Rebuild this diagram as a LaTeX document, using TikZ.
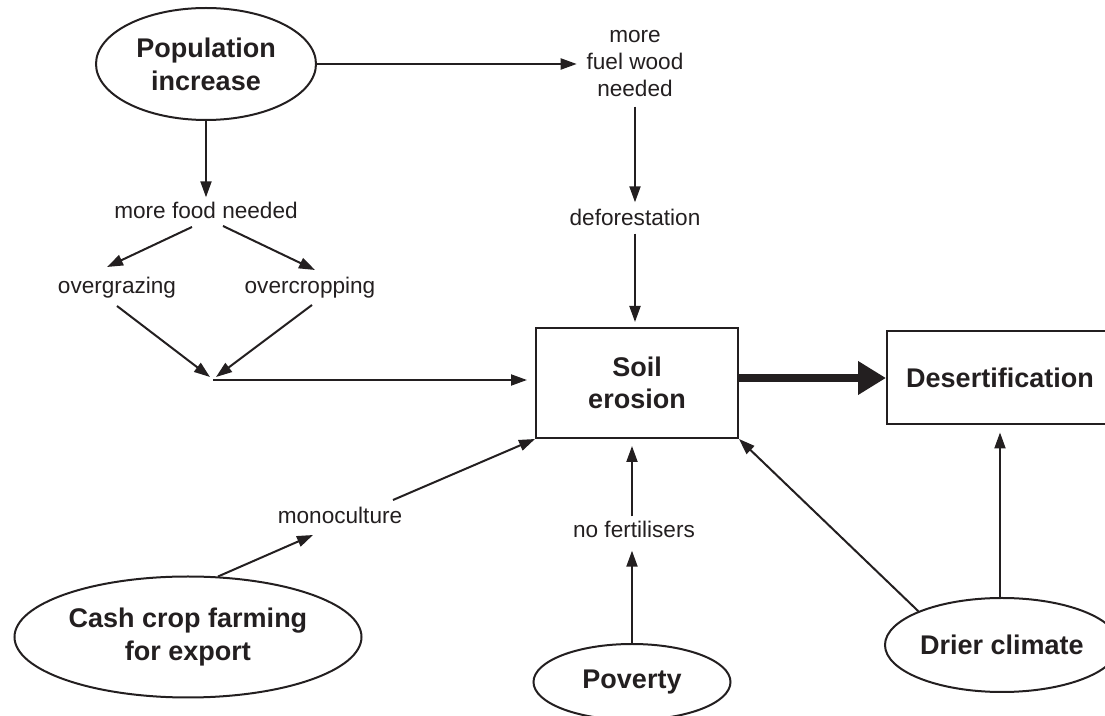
\documentclass[tikz,border=0pt]{standalone}
\usepackage{fontspec}
\setmainfont{Liberation Sans}
\usepackage{tikz}
\usetikzlibrary{shapes.geometric,arrows.meta,positioning,calc}

\definecolor{ink}{HTML}{231F20}

\tikzset{
    cause/.style={ellipse, draw, line width=1pt, inner sep=0pt, align=center,
        font=\fontsize{13.5}{16.5}\selectfont\bfseries},
    effect/.style={rectangle, draw, line width=1pt, inner sep=0pt, align=center,
        font=\fontsize{13.5}{16}\selectfont\bfseries},
    phrase/.style={inner sep=2pt, align=center, font=\fontsize{11.3}{13.5}\selectfont},
    arr/.style={-{Triangle[length=8pt,width=5.5pt]}, line width=1pt},
    bigarr/.style={-{Triangle[length=14pt,width=16pt]}, line width=4pt}
}

\begin{document}
\begin{tikzpicture}[x=0.5pt,y=-0.5pt,color=ink]
    % Frame (boxes at the right edge are cut off)
    \path[use as bounding box, clip] (0,0) rectangle (1105,716);

    % Causes
    \node[cause, minimum width=110pt, minimum height=56pt] (pop) at (206,64) {Population\\increase};
    \node[cause, minimum width=173.5pt, minimum height=60.5pt] (cash) at (188,637) {Cash crop farming\\for export};
    \node[cause, minimum width=98.5pt, minimum height=38pt] (pov) at (632,682) {Poverty};
    \node[cause, minimum width=117pt, minimum height=47pt] (drier) at (1002,645) {Drier climate};

    % Effects
    \node[effect, minimum width=101pt, minimum height=55pt] (soil) at (637,383) {Soil\\erosion};
    \node[effect, minimum width=113pt, minimum height=46.5pt] (desert) at (1000,378) {Desertification};

    % Steps in between
    \node[phrase] (food) at (206,210) {more food needed};
    \node[phrase] (graze) at (117,288) {overgrazing};
    \node[phrase] (crop) at (310,288) {overcropping};
    \coordinate (meet) at (213,380);
    \node[phrase] (fuel) at (635,64) {more\\fuel wood\\needed};
    \node[phrase] (defor) at (635,217) {deforestation};
    \node[phrase] (mono) at (340,515) {monoculture};
    \node[phrase] (fert) at (634,529) {no fertilisers};

    % Food branch
    \draw[arr] (pop) -- (food);
    \draw[arr] ($(food)+(-14,17)$) -- ($(graze)+(-10,-21)$);
    \draw[arr] ($(food)+(17,16)$) -- ($(crop)+(5,-18)$);
    \draw[arr] ($(graze)+(0,18)$) -- ($(meet)+(-3,-3)$);
    \draw[arr] ($(crop)+(2,17)$) -- ($(meet)+(3,-3)$);
    \draw[arr, shorten >=4pt] (meet) -- (meet -| soil.west);

    % Fuel wood branch
    \draw[arr, shorten >=2.75pt] (pop) -- (fuel);
    \draw[arr, shorten <=2.5pt, shorten >=1pt] (fuel) -- (defor);
    \draw[arr, shorten <=2pt, shorten >=2.5pt] (defor) -- (defor |- soil.north);

    % Cash crops
    \draw[arr] ($(cash.north)+(30,1)$) -- ($(mono)+(-27,20)$);
    \draw[arr] ($(mono)+(53,-15)$) -- (soil.south west);

    % Poverty
    \draw[arr, shorten >=4.5pt] (pov) -- (pov |- fert.south);
    \draw[arr, shorten >=3.5pt] (pov |- fert.north) -- (pov |- soil.south);

    % Climate
    \draw[arr] (drier.158) -- (soil.south east);
    \draw[arr, shorten >=3.5pt] (drier.north -| desert) -- (desert);

    % Main effect
    \draw[bigarr] (soil.east |- desert.west) -- (desert.west);
\end{tikzpicture}
\end{document}
